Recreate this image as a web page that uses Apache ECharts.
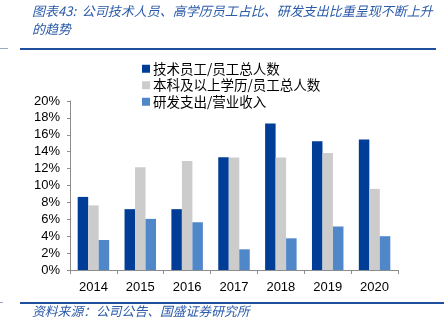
<!DOCTYPE html>
<html><head><meta charset="utf-8">
<script src="https://cdn.jsdelivr.net/npm/echarts@6/dist/echarts.min.js"></script>
<style>html,body{margin:0;padding:0;background:#fff}#c{width:447px;height:332px}</style>
</head><body><div id="c"></div>
<script>
var years = ['2014','2015','2016','2017','2018','2019','2020'];
var techRatio = [8.65, 7.2, 7.2, 13.35, 17.35, 15.25, 15.45];
var degreeRatio = [7.65, 12.15, 12.9, 13.3, 13.3, 13.85, 9.6];
var rdRatio = [3.55, 6.05, 5.65, 2.45, 3.75, 5.15, 4.0];
var seriesNames = ['技术员工/员工总人数','本科及以上学历/员工总人数','研发支出/营业收入'];
var colors = ['#003d96','#cccccc','#5087c8'];

var chart = echarts.init(document.getElementById('c'));
var titleColor = '#2a5aa8';
chart.setOption({
  animation:false,
  textStyle:{fontFamily:'Liberation Sans, Arial, sans-serif'},
  grid:{left:70,right:49,top:101,bottom:62},
  legend:{
    orient:'vertical', left:137, top:57, itemWidth:8, itemHeight:8, itemGap:3,
    icon:'rect',
    textStyle:{fontFamily:'Noto Sans CJK SC',fontSize:13.5,color:'#000',padding:[0,0,0,-2]},
    data:seriesNames
  },
  xAxis:{
    type:'category', data:years,
    axisLine:{lineStyle:{color:'#8c8c8c'}},
    axisTick:{show:true,length:4,lineStyle:{color:'#8c8c8c'}},
    axisLabel:{color:'#000',fontSize:13,margin:11}
  },
  yAxis:{
    type:'value', min:0, max:20, interval:2,
    axisLine:{show:true,lineStyle:{color:'#8c8c8c'}},
    axisTick:{show:true,length:3,lineStyle:{color:'#8c8c8c'}},
    splitLine:{show:false},
    axisLabel:{color:'#000',fontSize:13,margin:10,formatter:'{value}%'}
  },
  series:[
    {name:seriesNames[0],type:'bar',data:techRatio,barWidth:10.5,barGap:'0%',itemStyle:{color:colors[0]}},
    {name:seriesNames[1],type:'bar',data:degreeRatio,barWidth:10.5,barGap:'0%',itemStyle:{color:colors[1]}},
    {name:seriesNames[2],type:'bar',data:rdRatio,barWidth:10.5,barGap:'0%',itemStyle:{color:colors[2]}}
  ],
  graphic:[
    {type:'text',left:32,top:5,style:{text:'图表43:  公司技术人员、高学历员工占比、研发支出比重呈现不断上升',fill:titleColor,font:'italic 13px "Noto Sans CJK SC"'}},
    {type:'text',left:32,top:23,style:{text:'的趋势',fill:titleColor,font:'italic 13px "Noto Sans CJK SC"'}},
    {type:'rect',shape:{x:20,y:48,width:416,height:2},style:{fill:'#1f4e9c'}},
    {type:'rect',shape:{x:0,y:48,width:8,height:1},style:{fill:'#9aa8c0'}},
    {type:'rect',shape:{x:20,y:302,width:424,height:2},style:{fill:'#1f4e9c'}},
    {type:'rect',shape:{x:0,y:302,width:3,height:1},style:{fill:'#9aa8c0'}},
    {type:'text',left:32,top:305,style:{text:'资料来源：公司公告、国盛证券研究所',fill:titleColor,font:'italic 12.8px "Noto Sans CJK SC"'}}
  ]
});
</script></body></html>
